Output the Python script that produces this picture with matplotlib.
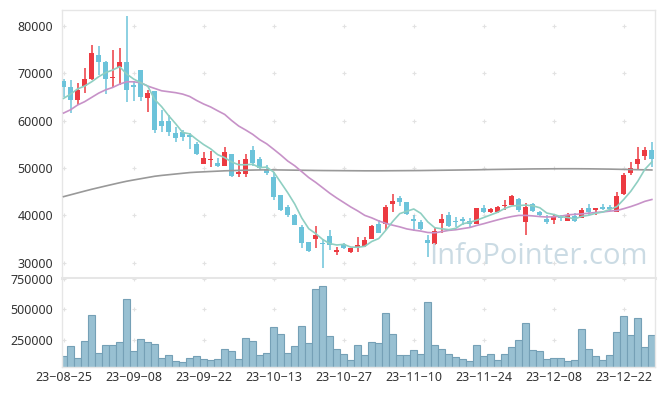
import numpy as np
import pandas as pd
import matplotlib
matplotlib.use('Agg')
import matplotlib.pyplot as plt

# KRX trading days shown on the chart
holidays = ['2023-09-28', '2023-09-29', '2023-10-02', '2023-10-03', '2023-10-09', '2023-12-25']
dates = pd.bdate_range('2023-08-25', '2023-12-29')
dates = dates[~dates.isin(pd.to_datetime(holidays))]

opens = [68400, 67100, 64400, 67400, 68700, 73900, 72400, 68900, 71400, 72400,
         67500, 70700, 64700, 66300, 59900, 59900, 57400, 57500, 56900, 55100,
         50900, 51600, 51100, 50500, 53000, 48700, 48700, 53800, 52000, 49700,
         48200, 44300, 41700, 40100, 37600, 34400, 35000, 34100, 35600, 32300,
         33900, 32200, 33400, 33600, 35000, 38200, 38100, 42300, 43600, 42900,
         39200, 38500, 34700, 34000, 38300, 40100, 38700, 39200, 38700, 38200,
         41600, 40800, 40800, 42000, 42200, 43500, 38500, 42400, 40700, 39200,
         39000, 39900, 38900, 39900, 39500, 41500, 41100, 41800, 41800, 40800,
         44500, 49000, 50800, 52500, 53900]
highs = [68700, 68600, 67900, 71100, 76000, 75800, 72600, 74900, 75300, 82100,
         68300, 70700, 66500, 66300, 62300, 61200, 58600, 58000, 57300, 55400,
         53300, 53500, 52100, 54400, 53000, 51600, 52900, 54700, 52300, 50700,
         49100, 44300, 42200, 40200, 38000, 34400, 37800, 34900, 36900, 33400,
         34200, 33200, 35400, 35400, 37900, 39000, 42200, 44500, 44100, 42900,
         40100, 39000, 35900, 37300, 40200, 40600, 39600, 39600, 39400, 41600,
         42200, 41600, 42000, 43200, 44200, 43600, 42500, 42700, 41000, 40000,
         40200, 40100, 40400, 40400, 41500, 42400, 41600, 42400, 42200, 45000,
         49000, 51300, 54500, 54500, 55400]
lows = [64900, 61600, 63200, 65800, 68500, 69700, 65600, 67000, 67500, 63900,
        64200, 64200, 61800, 57300, 57500, 56800, 55500, 55600, 54000, 52800,
        50900, 50300, 50200, 50400, 48000, 48200, 48200, 50400, 49600, 48500,
        43200, 40900, 39700, 37900, 33200, 32300, 33200, 28800, 32600, 31600,
        32800, 32000, 32300, 33400, 34900, 36200, 36900, 40800, 42000, 40100,
        36600, 36900, 31300, 33700, 36200, 37600, 37600, 38000, 37600, 38100,
        40400, 40400, 40400, 41100, 42200, 40800, 35900, 40800, 39600, 38200,
        38100, 38700, 38700, 38500, 39400, 40100, 40100, 41100, 40900, 40600,
        44300, 48500, 49800, 51600, 50300]
closes = [67000, 64400, 66500, 68800, 74300, 72300, 68800, 69200, 72400, 66500,
          67000, 64900, 65800, 58100, 58900, 57500, 56400, 56600, 56600, 53000,
          52100, 51900, 50500, 53400, 48400, 49200, 51900, 51000, 49900, 48900,
          43900, 41100, 40100, 38000, 34200, 32500, 35900, 33900, 33700, 32700,
          33200, 33000, 33700, 34700, 37800, 36300, 41700, 43100, 42900, 40300,
          38700, 37100, 34100, 36700, 39200, 37800, 38500, 38900, 38200, 41500,
          40600, 41300, 41700, 42200, 44100, 41100, 41700, 41000, 40100, 38500,
          39600, 39400, 40100, 38700, 41100, 40800, 41500, 41400, 41400, 44100,
          48500, 50100, 52000, 53900, 51900]
volumes = [116000, 198000, 102000, 242000, 452000, 141000, 206000, 206000, 231000, 583000,
           157000, 256000, 231000, 215000, 100000, 124000, 75000, 67000, 100000, 116000,
           92000, 86000, 92000, 174000, 157000, 92000, 264000, 242000, 124000, 141000,
           354000, 297000, 141000, 198000, 362000, 223000, 666000, 693000, 280000, 174000,
           133000, 84000, 206000, 124000, 231000, 223000, 469000, 297000, 124000, 124000,
           166000, 133000, 559000, 206000, 174000, 133000, 108000, 92000, 78000, 206000,
           116000, 133000, 84000, 133000, 190000, 247000, 387000, 166000, 157000, 92000,
           100000, 100000, 75000, 84000, 338000, 174000, 116000, 84000, 124000, 313000,
           444000, 288000, 428000, 190000, 288000]

ma5_head = [64700, 65600, 66700, 67300]
ma20_head = [61600, 62300, 63300, 64000, 64900, 65800, 66500, 67000, 67700, 68200,
             68200, 68000, 67300, 66800, 66300, 66100, 65900, 65600, 65100]
ma120 = [43950, 44340, 44730, 45120, 45500, 45850, 46200, 46540, 46880, 47200,
         47470, 47730, 47990, 48250, 48430, 48580, 48730, 48880, 49030, 49120,
         49190, 49260, 49330, 49400, 49450, 49490, 49530, 49560, 49590, 49600,
         49600, 49580, 49560, 49540, 49520, 49500, 49480, 49460, 49450, 49440,
         49430, 49420, 49410, 49400, 49400, 49400, 49410, 49420, 49430, 49440,
         49450, 49460, 49480, 49500, 49520, 49540, 49560, 49580, 49600, 49620,
         49650, 49680, 49700, 49720, 49740, 49760, 49780, 49800, 49810, 49820,
         49830, 49840, 49840, 49840, 49830, 49820, 49800, 49780, 49760, 49730,
         49700, 49670, 49640, 49610, 49580]

price_ticks = [30000, 40000, 50000, 60000, 70000, 80000]
vol_ticks = [250000, 500000, 750000]

close_s = pd.Series(closes, dtype=float)
ma5 = close_s.rolling(5).mean().to_numpy()
ma5[:4] = ma5_head
ma20 = close_s.rolling(20).mean().to_numpy()
ma20[:19] = ma20_head

x = np.arange(len(dates))
up_col = '#ec3a41'
down_col = '#6cc3da'
grid_col = '#e2e2e2'
spine_col = '#e6e6e6'
text_col = '#333333'

plt.rcParams['font.family'] = ['Noto Sans', 'DejaVu Sans']

fig = plt.figure(figsize=(6.65, 3.96), dpi=100)
ax = fig.add_axes([0.0925, 0.298, 0.8925, 0.677])
axv = fig.add_axes([0.0925, 0.0725, 0.8925, 0.223])

# candles
for i in x:
    o, h, l, c = opens[i], highs[i], lows[i], closes[i]
    col = up_col if c >= o else down_col
    ax.vlines(i, l, h, color=col, lw=1.1, zorder=2)
    body = max(abs(c - o), 150)
    ax.bar(i, body, bottom=min(o, c), width=0.72, color=col, zorder=3)

ax.plot(x, ma120, color='#999999', lw=1.2, zorder=4)
ax.plot(x, ma20, color='#c792c8', lw=1.2, zorder=4)
ax.plot(x, ma5, color='#8fcfc2', lw=1.2, zorder=4)

# volume
axv.bar(x, volumes, width=1.0, color='#98c0d2', edgecolor='#75a0b6', linewidth=0.8, zorder=2)

xt = list(range(0, len(dates), 10))
for a, yt in ((ax, price_ticks), (axv, vol_ticks)):
    gx, gy = np.meshgrid(xt, yt)
    a.scatter(gx.ravel(), gy.ravel(), marker='+', s=11, color=grid_col, linewidths=0.8, zorder=1)
    a.set_xlim(-0.3, 84.45)
    a.set_yticks(yt)
    a.set_yticklabels([str(v) for v in yt])
    a.tick_params(length=0, labelsize=9, labelcolor=text_col, pad=6)
    for s in a.spines.values():
        s.set_color(spine_col)
        s.set_linewidth(1)

ax.set_ylim(26770, 83380)
ax.set_xticks([])
ax.spines['bottom'].set_linewidth(2.2)
axv.spines['top'].set_visible(False)
axv.set_ylim(26000, 750000)
axv.set_xticks(xt)
axv.set_xticklabels([dates[i].strftime('%y-%m-%d').replace('-', '\u2212') for i in xt])
axv.tick_params(axis='x', pad=3)

fig.text(0.81, 0.353, 'InfoPointer.com', ha='center', va='center', fontsize=21,
         color='#c6d8e1', family='Open Sans', alpha=0.9, zorder=10)

fig.savefig('out.png', dpi=100)
